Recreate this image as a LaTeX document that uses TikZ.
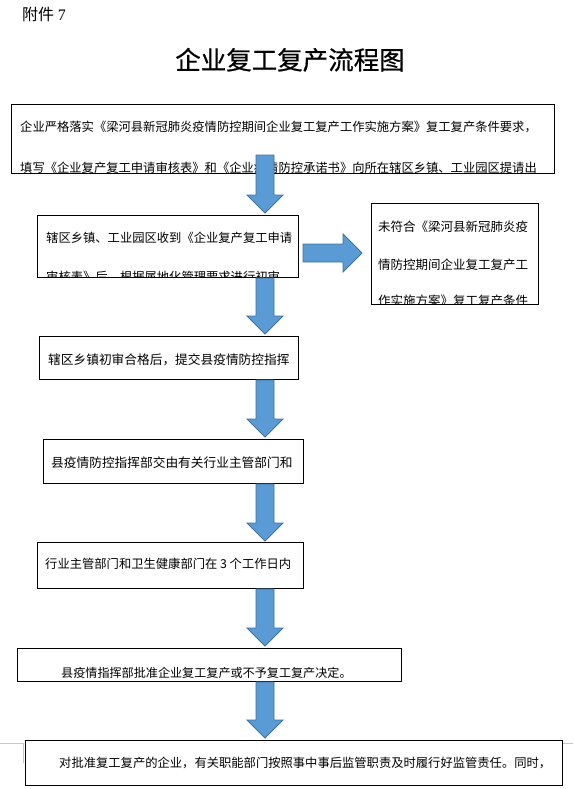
\documentclass[tikz,border=0pt]{standalone}
\usepackage{fontspec}
\setmainfont{Noto Sans CJK SC}
\newfontfamily\serifnum{Liberation Serif}
\newfontfamily\titlefont{Noto Sans CJK SC}[FakeBold=0.6]
\usetikzlibrary{calc}
\definecolor{arrowfill}{HTML}{5B9BD5}
\definecolor{arrowline}{HTML}{41719C}
\definecolor{markgray}{HTML}{C8C8C8}
\tikzset{
  flowbox/.style={draw=black, line width=0.9pt, inner sep=0pt, anchor=north west},
  txt/.style={anchor=base west, inner sep=0pt, font=\fontsize{12.3pt}{14pt}\selectfont},
  barrow/.style={fill=arrowfill, draw=arrowline, line width=0.8pt, line join=miter},
  cornermark/.style={draw=markgray, line width=0.8pt},
}
\newcommand\downblock[2]{\path[barrow] let \p1=(#1), \p2=(#2) in
  (\x1-9pt,\y1) -- (\x1+9pt,\y1) -- (\x1+9pt,\y2+18pt) -- (\x1+18pt,\y2+18pt) --
  (\x1,\y2) -- (\x1-18pt,\y2+18pt) -- (\x1-9pt,\y2+18pt) -- cycle;}
\newcommand\rightblock[2]{\path[barrow] let \p1=(#1), \p2=(#2) in
  (\x1,\y1+9pt) -- (\x2-19pt,\y1+9pt) -- (\x2-19pt,\y1+19pt) -- (\x2,\y1) --
  (\x2-19pt,\y1-19pt) -- (\x2-19pt,\y1-9pt) -- (\x1,\y1-9pt) -- cycle;}
\newcommand\clipbox[1]{\clip ($(#1.south west)+(0.5,-0.5)$) rectangle ($(#1.north east)+(-0.5,0.5)$);}
\begin{document}
\begin{tikzpicture}[x=1pt,y=-1pt]
\useasboundingbox[fill=white] (0,0) rectangle (573,789);

% page corner marks
\draw[cornermark] (0,743) -- (23,743) -- (23,763);
\draw[cornermark] (562,743) -- (573,743);

% header
\node[anchor=base west, inner sep=0pt, font=\fontsize{16pt}{18pt}\selectfont] (att) at (22,20.5) {附件 {\serifnum 7}};
\node[anchor=base, inner sep=0pt, font=\titlefont\fontsize{25.5pt}{30pt}\selectfont] (title) at (290,69.5) {企业复工复产流程图};

% boxes
\node[flowbox, minimum width=543pt, minimum height=69pt] (b1) at (11,104) {};
\node[flowbox, minimum width=261pt, minimum height=62pt] (b2) at (37,215) {};
\node[flowbox, minimum width=167pt, minimum height=101pt] (b3) at (371,203) {};
\node[flowbox, minimum width=259pt, minimum height=43pt] (b4) at (39,336) {};
\node[flowbox, minimum width=260pt, minimum height=44pt] (b5) at (43,439) {};
\node[flowbox, minimum width=266pt, minimum height=46pt] (b6) at (37,542) {};
\node[flowbox, minimum width=384pt, minimum height=33pt] (b7) at (17,648) {};
\node[flowbox, minimum width=537pt, minimum height=45pt] (b8) at (25,740) {};

% texts
\begin{scope}
\clipbox{b1}
\node[txt] (t1a) at (20,131.7) {企业严格落实《梁河县新冠肺炎疫情防控期间企业复工复产工作实施方案》复工复产条件要求，};
\node[txt] (t1b) at (20,172.5) {填写《企业复产复工申请审核表》和《企业疫情防控承诺书》向所在辖区乡镇、工业园区提请出};
\end{scope}
\begin{scope}
\clipbox{b2}
\node[txt] (t2a) at (46,242.7) {辖区乡镇、工业园区收到《企业复产复工申请};
\node[txt] (t2b) at (46,281.5) {审核表》后，根据属地化管理要求进行初审};
\end{scope}
\begin{scope}
\clipbox{b3}
\node[txt, font=\fontsize{12.5pt}{14pt}\selectfont] (t3a) at (378,231.7) {未符合《梁河县新冠肺炎疫};
\node[txt, font=\fontsize{12.5pt}{14pt}\selectfont] (t3b) at (378,269.7) {情防控期间企业复工复产工};
\node[txt, font=\fontsize{12.5pt}{14pt}\selectfont] (t3c) at (378,305.5) {作实施方案》复工复产条件};
\end{scope}
\node[txt, font=\fontsize{12.7pt}{14pt}\selectfont] (t4) at (48,364.8) {辖区乡镇初审合格后，提交县疫情防控指挥};
\node[txt, font=\fontsize{12.7pt}{14pt}\selectfont] (t5) at (51,467.8) {县疫情防控指挥部交由有关行业主管部门和};
\node[txt] (t6) at (45,568.7) {行业主管部门和卫生健康部门在 3 个工作日内};
\begin{scope}
\clipbox{b7}
\node[txt, font=\fontsize{12.1pt}{14pt}\selectfont] (t7) at (61,677.8) {县疫情指挥部批准企业复工复产或不予复工复产决定。};
\end{scope}
\node[txt] (t8) at (59,767.7) {对批准复工复产的企业，有关职能部门按照事中事后监管职责及时履行好监管责任。同时，};

% arrows
\coordinate (ax) at (265,155);
\coordinate (rs) at (303,253);
\downblock{ax}{$(b2.north -| ax)+(0,-2)$}
\downblock{b2.south -| ax}{$(b4.north -| ax)+(0,-2)$}
\downblock{b4.south -| ax}{$(b5.north -| ax)+(0,-2)$}
\downblock{b5.south -| ax}{$(b6.north -| ax)+(0,-1)$}
\downblock{b6.south -| ax}{$(b7.north -| ax)+(0,-2)$}
\downblock{b7.south -| ax}{$(b8.north -| ax)+(0,-2)$}
\rightblock{rs}{$(b3.west |- rs)+(-9,0)$}
\end{tikzpicture}
\end{document}
